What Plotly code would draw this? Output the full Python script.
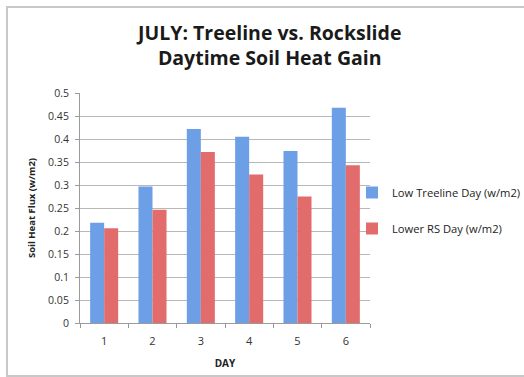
import plotly.graph_objects as go

days = ["1", "2", "3", "4", "5", "6"]
treeline = [0.218, 0.297, 0.422, 0.405, 0.374, 0.468]
rockslide = [0.206, 0.246, 0.372, 0.323, 0.275, 0.343]
y_ticks = [0, 0.05, 0.1, 0.15, 0.2, 0.25, 0.3, 0.35, 0.4, 0.45, 0.5]
y_tick_text = ["0", "0.05", "0.1", "0.15", "0.2", "0.25", "0.3", "0.35", "0.4", "0.45", "0.5"]

W, H = 524, 377
L, R, T, B = 80, 154, 93, 54
pw, ph = W - L - R, H - T - B

def px(x):
    return (x - L) / pw

def py(y):
    return (H - B - y) / ph

fig = go.Figure()
fig.add_trace(go.Bar(
    x=days, y=treeline, name="Low Treeline Day (w/m2)", legendgroup="treeline",
    marker=dict(color="#6c9fe6", line=dict(width=0)),
))
fig.add_trace(go.Bar(
    x=days, y=rockslide, name="Lower RS Day (w/m2)", legendgroup="rockslide",
    marker=dict(color="#e26c6c", line=dict(width=0)),
))

fig.update_layout(
    width=W, height=H,
    margin=dict(l=L, r=R, t=T, b=B, autoexpand=False),
    paper_bgcolor="white", plot_bgcolor="white",
    barmode="group", bargap=0.42, bargroupgap=0,
    font=dict(family="Open Sans, Lato, sans-serif", color="#333333", size=10),
    showlegend=True,
    legend=dict(
        x=px(352), y=py(178), xanchor="left", yanchor="top",
        font=dict(size=11.2, color="#222222"),
        tracegroupgap=17, itemwidth=30, bgcolor="rgba(0,0,0,0)",
    ),
    xaxis=dict(
        showline=True, linecolor="#9a9a9a", linewidth=1,
        ticks="outside", tickson="boundaries", ticklen=4, tickcolor="#9a9a9a",
        showgrid=False, tickfont=dict(size=11, color="#333333"),
        ticklabelstandoff=8,
        title=dict(text="<b>DAY</b>", font=dict(size=10, color="#222222"), standoff=12),
    ),
    yaxis=dict(
        range=[0, 0.5], tickvals=y_ticks, ticktext=y_tick_text,
        showline=True, linecolor="#9a9a9a", linewidth=1,
        ticks="outside", ticklen=4, tickcolor="#9a9a9a",
        showgrid=True, gridcolor="#b8b8b8", gridwidth=1,
        zeroline=False, tickfont=dict(size=10.5, color="#333333"),
        ticklabelstandoff=4,
        title=dict(text="<b>Soil Heat Flux (w/m2)</b>", font=dict(size=9.5, color="#222222"), standoff=10),
    ),
    shapes=[
        dict(type="rect", xref="paper", yref="paper",
             x0=px(7), x1=px(540), y0=py(376), y1=py(7),
             line=dict(color="#c8c8c8", width=2), fillcolor="rgba(0,0,0,0)", layer="below"),
    ],
    annotations=[
        dict(text="<b>JULY: Treeline vs. Rockslide<br>Daytime Soil Heat Gain</b>",
             xref="paper", yref="paper", x=px(268), y=py(45), xanchor="center", yanchor="middle",
             showarrow=False, align="center",
             font=dict(family="Open Sans, Lato, sans-serif", size=19.5, color="#1a1a1a")),
    ],
)

fig.write_html("out.html")
